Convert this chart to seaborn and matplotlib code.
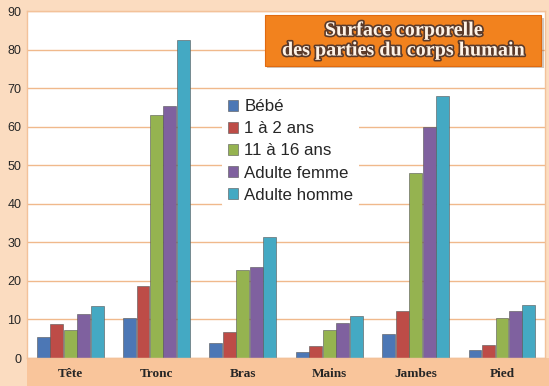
import matplotlib
matplotlib.use("Agg")
import matplotlib.pyplot as plt
import matplotlib.patheffects as pe
from matplotlib.patches import Rectangle
import seaborn as sns
import pandas as pd

# ======================================
# DATA
parts = ["Tête", "Tronc", "Bras", "Mains", "Jambes", "Pied"]
groups = ["Bébé", "1 à 2 ans", "11 à 16 ans", "Adulte femme", "Adulte homme"]

bebe = [5.4, 10.5, 4.0, 1.6, 6.1, 2.0]
enfant = [8.7, 18.8, 6.8, 3.1, 12.1, 3.5]
ado = [7.3, 63.0, 22.7, 7.3, 48.1, 10.4]
femme = [11.5, 65.3, 23.7, 9.0, 59.8, 12.2]
homme = [13.6, 82.5, 31.3, 10.8, 68.0, 13.7]

colors = ["#3B74C6", "#D13A33", "#9CC43F", "#7F57A9", "#2FB5D8"]

rows = []
for g, vals in zip(groups, [bebe, enfant, ado, femme, homme]):
    for p, v in zip(parts, vals):
        rows.append({"partie": p, "groupe": g, "valeur": v})
df = pd.DataFrame(rows)

# ======================================
# FIGURE
sns.set_style("white")
fig = plt.figure(figsize=(5.49, 3.86), dpi=100)
fig.patch.set_facecolor("#FBDCC0")

ax = fig.add_axes([0.049, 0.0725, 0.944, 0.899])
ax.set_facecolor("white")

sns.barplot(data=df, x="partie", y="valeur", hue="groupe", order=parts,
            hue_order=groups, palette=colors, width=0.78, gap=0.04,
            edgecolor="#555555", linewidth=0.4, ax=ax)

ax.set_ylim(0, 90)
ax.set_xlim(-0.5, 5.5)
ax.set_yticks(range(0, 91, 10))
ax.yaxis.grid(True, color="#F0B98C", linewidth=1)
ax.set_axisbelow(True)
ax.set_xlabel("")
ax.set_ylabel("")
for s in ax.spines.values():
    s.set_color("#F3C29A")
    s.set_linewidth(1)
ax.tick_params(axis="y", labelsize=9, length=0, pad=4)
ax.tick_params(axis="x", length=0, pad=7)
for lab in ax.get_yticklabels():
    lab.set_family("Liberation Sans")
for lab in ax.get_xticklabels():
    lab.set_family("Liberation Serif")
    lab.set_fontweight("bold")
    lab.set_fontsize(9.5)

# bottom peach band behind category labels
fig.patches.append(Rectangle((0.049, 0.0), 0.951, 0.0725, transform=fig.transFigure,
                             facecolor="#F9C59B", edgecolor="none", zorder=-1))

# ======================================
# LEGEND
leg = ax.legend(loc="upper left", bbox_to_anchor=(0.361, 0.785), frameon=True,
                fontsize=12.2, handlelength=0.6, handleheight=0.6,
                handletextpad=0.4, labelspacing=0.42, borderpad=0.3)
leg.get_frame().set_facecolor("white")
leg.get_frame().set_edgecolor("none")
leg.get_frame().set_alpha(1)
for t in leg.get_texts():
    t.set_family("Liberation Sans")

# ======================================
# TITLE BOX
fig.patches.append(Rectangle((0.487, 0.824), 0.503, 0.13, transform=fig.transFigure,
                             facecolor="#7A5A40", edgecolor="none", alpha=0.35, zorder=5))
fig.patches.append(Rectangle((0.483, 0.830), 0.503, 0.13, transform=fig.transFigure,
                             facecolor="#F2821E", edgecolor="#E06A10", linewidth=0.8, zorder=6))
fig.text(0.735, 0.895, "Surface corporelle\ndes parties du corps humain",
         ha="center", va="center", fontsize=14.5, fontweight="bold",
         family="Liberation Serif", color="#FFF3E6", linespacing=1.0, zorder=7,
         path_effects=[pe.withStroke(linewidth=2.4, foreground="#5A3A2A")])

fig.savefig("out.png", dpi=100, facecolor=fig.get_facecolor())
